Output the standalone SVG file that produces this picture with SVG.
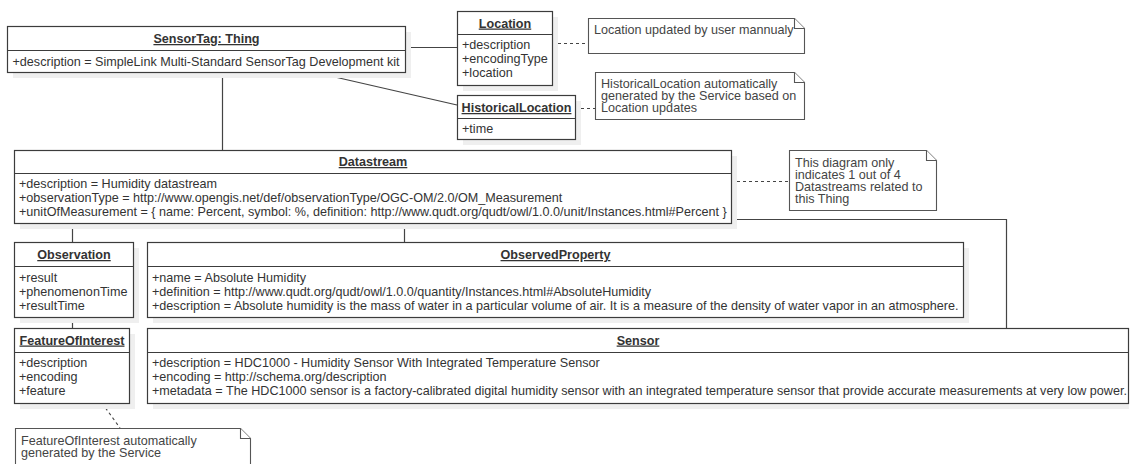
<svg xmlns="http://www.w3.org/2000/svg" width="1130" height="464" viewBox="0 0 1130 464">
  <style>
    text { font-family: "Liberation Sans", Arial, sans-serif; font-size: 12.6px; fill: #333; }
    .title { font-weight: bold; text-anchor: middle; text-decoration: underline; }
    .box { fill: #fff; stroke: #3c3c3c; stroke-width: 1.2; }
    .shadow { fill: #efefef; }
    .sep { stroke: #3c3c3c; stroke-width: 1.2; }
    .note { fill: #fff; stroke: #555; stroke-width: 1.1; }
    .note-text { fill: #444; }
    .assoc { fill: none; stroke: #444; stroke-width: 1.2; }
    .anchor { fill: none; stroke: #444; stroke-width: 1.1; stroke-dasharray: 3 3; }
  </style>

  <!-- connectors -->
  <g id="connectors">
    <line class="assoc" x1="405" y1="47.5" x2="457" y2="47.5"/>
    <line class="assoc" x1="313" y1="72" x2="457" y2="105"/>
    <line class="assoc" x1="222.5" y1="72" x2="222.5" y2="150"/>
    <line class="assoc" x1="72.5" y1="223" x2="72.5" y2="242"/>
    <line class="assoc" x1="404.5" y1="223" x2="404.5" y2="242"/>
    <line class="assoc" x1="72.5" y1="317" x2="72.5" y2="328"/>
    <polyline class="assoc" points="731,219.5 1006.5,219.5 1006.5,328"/>
    <line class="anchor" x1="552" y1="43.5" x2="588" y2="43.5"/>
    <line class="anchor" x1="575" y1="108.5" x2="595" y2="108.5"/>
    <line class="anchor" x1="731" y1="181.5" x2="789" y2="181.5"/>
    <line class="anchor" x1="102" y1="403" x2="120" y2="428"/>
  </g>

  <!-- SensorTag: Thing -->
  <g id="thing">
    <rect class="shadow" x="13" y="32" width="398" height="46"/>
    <rect class="box" x="7.5" y="26.5" width="398" height="46"/>
    <line class="sep" x1="7.5" y1="50.5" x2="405.5" y2="50.5"/>
    <text class="title" x="206.5" y="43">SensorTag: Thing</text>
    <text x="12.5" y="65.5">+description = SimpleLink Multi-Standard SensorTag Development kit</text>
  </g>

  <!-- Location -->
  <g id="location">
    <rect class="shadow" x="463" y="17" width="95" height="74"/>
    <rect class="box" x="457.5" y="11.5" width="95" height="74"/>
    <line class="sep" x1="457.5" y1="34.5" x2="552.5" y2="34.5"/>
    <text class="title" x="505" y="27.5">Location</text>
    <text x="462" y="49">+description</text>
    <text x="462" y="63">+encodingType</text>
    <text x="462" y="77">+location</text>
  </g>

  <!-- note on Location -->
  <g id="note-location">
    <path class="note" d="M588.5,18.5 H794.5 L804.5,28.5 V53.5 H588.5 Z"/>
    <path class="note" d="M794.5,18.5 V28.5 H804.5"/>
    <text class="note-text" x="594" y="34">Location updated by user mannualy</text>
  </g>

  <!-- HistoricalLocation -->
  <g id="historical-location">
    <rect class="shadow" x="463" y="101" width="118" height="44"/>
    <rect class="box" x="457.5" y="95.5" width="118" height="44"/>
    <line class="sep" x1="457.5" y1="118.5" x2="575.5" y2="118.5"/>
    <text class="title" x="516.5" y="112">HistoricalLocation</text>
    <text x="462" y="132.5">+time</text>
  </g>

  <!-- note on HistoricalLocation -->
  <g id="note-historical-location">
    <path class="note" d="M595.5,72.5 H794.5 L804.5,82.5 V119.5 H595.5 Z"/>
    <path class="note" d="M794.5,72.5 V82.5 H804.5"/>
    <text class="note-text" x="601" y="88">HistoricalLocation automatically</text>
    <text class="note-text" x="601" y="100">generated by the Service based on</text>
    <text class="note-text" x="601" y="112">Location updates</text>
  </g>

  <!-- Datastream -->
  <g id="datastream">
    <rect class="shadow" x="20" y="156" width="717" height="73"/>
    <rect class="box" x="14.5" y="150.5" width="717" height="73"/>
    <line class="sep" x1="14.5" y1="173.5" x2="731.5" y2="173.5"/>
    <text class="title" x="373" y="166">Datastream</text>
    <text x="19" y="188">+description = Humidity datastream</text>
    <text x="19" y="201.8">+observationType = http://www.opengis.net/def/observationType/OGC-OM/2.0/OM_Measurement</text>
    <text x="19" y="215.6">+unitOfMeasurement = { name: Percent, symbol: %, definition: http://www.qudt.org/qudt/owl/1.0.0/unit/Instances.html#Percent }</text>
  </g>

  <!-- note on Datastream -->
  <g id="note-datastream">
    <path class="note" d="M789.5,150.5 H926.5 L936.5,160.5 V210.5 H789.5 Z"/>
    <path class="note" d="M926.5,150.5 V160.5 H936.5"/>
    <text class="note-text" x="795" y="166.5">This diagram only</text>
    <text class="note-text" x="795" y="178.5">indicates 1 out of 4</text>
    <text class="note-text" x="795" y="190.5">Datastreams related to</text>
    <text class="note-text" x="795" y="202.5">this Thing</text>
  </g>

  <!-- Observation -->
  <g id="observation">
    <rect class="shadow" x="20" y="248" width="119" height="75"/>
    <rect class="box" x="14.5" y="242.5" width="119" height="75"/>
    <line class="sep" x1="14.5" y1="266.5" x2="133.5" y2="266.5"/>
    <text class="title" x="74" y="259">Observation</text>
    <text x="19" y="282">+result</text>
    <text x="19" y="295.8">+phenomenonTime</text>
    <text x="19" y="309.6">+resultTime</text>
  </g>

  <!-- ObservedProperty -->
  <g id="observed-property">
    <rect class="shadow" x="153" y="248" width="816" height="75"/>
    <rect class="box" x="147.5" y="242.5" width="816" height="75"/>
    <line class="sep" x1="147.5" y1="266.5" x2="963.5" y2="266.5"/>
    <text class="title" x="555.5" y="259">ObservedProperty</text>
    <text x="152" y="282">+name = Absolute Humidity</text>
    <text x="152" y="295.8">+definition = http://www.qudt.org/qudt/owl/1.0.0/quantity/Instances.html#AbsoluteHumidity</text>
    <text x="152" y="309.6">+description = Absolute humidity is the mass of water in a particular volume of air. It is a measure of the density of water vapor in an atmosphere.</text>
  </g>

  <!-- FeatureOfInterest -->
  <g id="feature-of-interest">
    <rect class="shadow" x="20" y="334" width="115" height="75"/>
    <rect class="box" x="14.5" y="328.5" width="115" height="75"/>
    <line class="sep" x1="14.5" y1="352.5" x2="129.5" y2="352.5"/>
    <text class="title" x="72" y="344.5">FeatureOfInterest</text>
    <text x="19" y="367">+description</text>
    <text x="19" y="380.8">+encoding</text>
    <text x="19" y="394.6">+feature</text>
  </g>

  <!-- Sensor -->
  <g id="sensor">
    <rect class="shadow" x="153" y="334" width="976" height="75"/>
    <rect class="box" x="147.5" y="328.5" width="981" height="75"/>
    <line class="sep" x1="147.5" y1="352.5" x2="1128.5" y2="352.5"/>
    <text class="title" x="638" y="344.5">Sensor</text>
    <text x="152" y="367">+description = HDC1000 - Humidity Sensor With Integrated Temperature Sensor</text>
    <text x="152" y="380.8">+encoding = http://schema.org/description</text>
    <text x="152" y="394.6">+metadata = The HDC1000 sensor is a factory-calibrated digital humidity sensor with an integrated temperature sensor that provide accurate measurements at very low power.</text>
  </g>

  <!-- note on FeatureOfInterest -->
  <g id="note-feature-of-interest">
    <path class="note" d="M15.5,428.5 H240.5 L250.5,438.5 V470 H15.5 Z"/>
    <path class="note" d="M240.5,428.5 V438.5 H250.5"/>
    <text class="note-text" x="21" y="444.5">FeatureOfInterest automatically</text>
    <text class="note-text" x="21" y="456.5">generated by the Service</text>
  </g>
</svg>
